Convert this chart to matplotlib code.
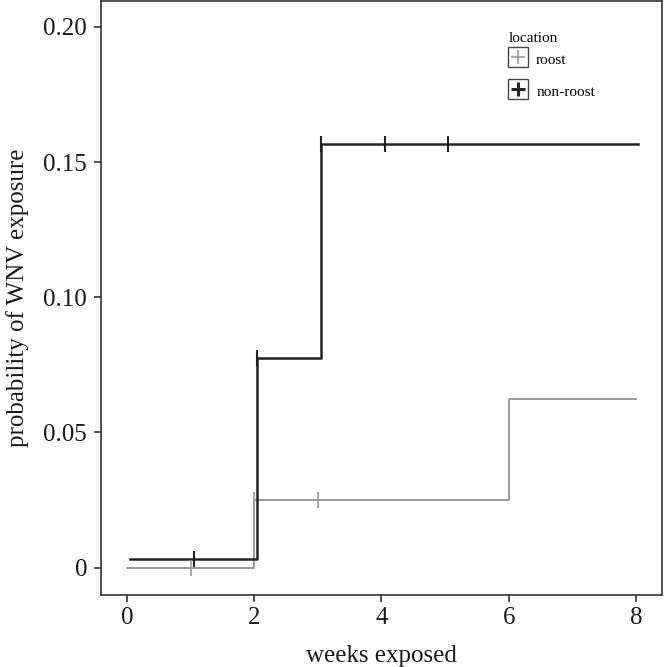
import numpy as np
import matplotlib
matplotlib.use("Agg")
import matplotlib.pyplot as plt
from matplotlib.lines import Line2D
from matplotlib.legend_handler import HandlerTuple

plt.rcParams['font.family'] = ['Liberation Serif', 'DejaVu Serif']

# step curves (x = week of each step, y = cumulative probability)
roost_x = [0, 2, 6, 8]
roost_y = [0.0, 0.025, 0.0625, 0.0625]
nonroost_x = [0.05, 2.05, 3.05, 8.03]
nonroost_y = [0.0033, 0.0775, 0.1567, 0.1567]

# censor marks
roost_cx = [1, 2, 3]
roost_cy = [0.0, 0.025, 0.025]
nonroost_cx = [1.05, 2.05, 3.05, 4.05, 5.05]
nonroost_cy = [0.0033, 0.0775, 0.1567, 0.1567, 0.1567]

xticks = [0, 2, 4, 6, 8]
yticks = [0, 0.05, 0.10, 0.15, 0.20]
ytick_labels = ['0', '0.05', '0.10', '0.15', '0.20']

grey = '#9a9a9a'
dark = '#222222'

fig = plt.figure(figsize=(6.64, 6.67), dpi=100)
ax = fig.add_axes([0.152, 0.108, 0.845, 0.8905])

ax.step(roost_x, roost_y, where='post', color=grey, lw=1.4)
ax.step(nonroost_x, nonroost_y, where='post', color=dark, lw=1.8)
ax.plot(roost_cx, roost_cy, ls='none', marker='|', ms=11, mew=1.2, color=grey)
ax.plot(nonroost_cx, nonroost_cy, ls='none', marker='|', ms=11, mew=1.5, color=dark)

ax.set_xlim(-0.41, 8.41)
ax.set_ylim(-0.0101, 0.2096)
ax.set_xticks(xticks)
ax.set_xticklabels([str(v) for v in xticks])
ax.set_yticks(yticks)
ax.set_yticklabels(ytick_labels)
ax.tick_params(axis='both', labelsize=18, length=5, width=1.2, color='#333333',
               labelcolor='#1a1a1a')
ax.tick_params(axis='x', pad=4)
ax.tick_params(axis='y', pad=5)
for s in ax.spines.values():
    s.set_color('#333333')
    s.set_linewidth(1.2)

ax.set_xlabel('weeks exposed', fontsize=18, color='#1a1a1a', labelpad=11)
ax.set_ylabel('probability of WNV exposure', fontsize=18, color='#1a1a1a', labelpad=10)

box = dict(ls='none', marker='s', ms=14, mfc='white', mec='#444444', mew=1.0)
h_roost = (Line2D([], [], **box),
           Line2D([], [], ls='none', marker='+', ms=10, mew=1.2, color=grey))
h_non = (Line2D([], [], **box),
         Line2D([], [], ls='none', marker='+', ms=10, mew=2.2, color=dark))
leg = ax.legend([h_roost, h_non], ['roost', 'non-roost'], title='location',
                handler_map={tuple: HandlerTuple(ndivide=1)},
                loc='upper left', bbox_to_anchor=(0.713, 0.9612), frameon=False,
                fontsize=11, title_fontsize=11, handlelength=1.2, handleheight=1.4,
                handletextpad=0.6, labelspacing=0.95, borderpad=0)
leg._legend_box.align = 'left'
leg._legend_box.sep = 4

fig.savefig('out.png', dpi=100)
